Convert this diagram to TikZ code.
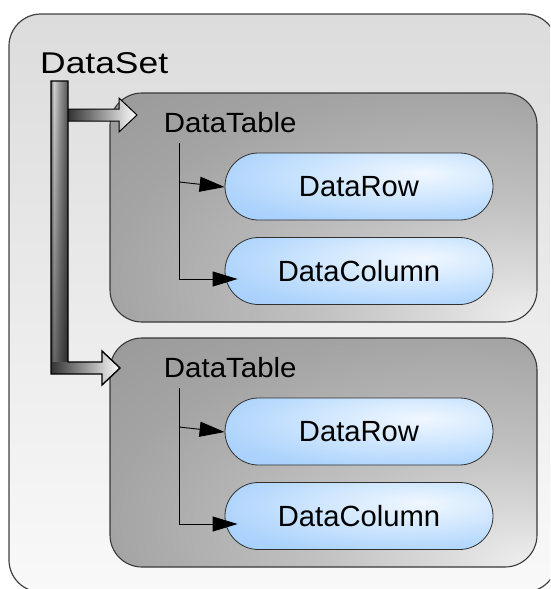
\documentclass[tikz,border=0pt]{standalone}
\usepackage{fontspec}
\setmainfont{Liberation Sans}
\usetikzlibrary{arrows.meta,fadings}

% palette
\definecolor{outertop}{HTML}{DCDCDC}
\definecolor{outerbot}{HTML}{F9F9F9}
\definecolor{outerline}{HTML}{404040}
\definecolor{tbA}{HTML}{F0F0F0}
\definecolor{tbB}{HTML}{DCDCDC}
\definecolor{tbC}{HTML}{C2C2C2}
\definecolor{tbD}{HTML}{A4A4A4}
\definecolor{tbE}{HTML}{9A9A9A}
\definecolor{tbline}{HTML}{383838}
\definecolor{plA}{HTML}{F0F7FF}
\definecolor{plB}{HTML}{D4E9FE}
\definecolor{plC}{HTML}{ACD3FC}
\definecolor{plD}{HTML}{9ACAFA}
\definecolor{plE}{HTML}{96C7F9}
\definecolor{pillline}{HTML}{303030}
\definecolor{barA}{HTML}{707070}
\definecolor{barB}{HTML}{D4D4D4}
\definecolor{barC}{HTML}{9A9A9A}
\definecolor{barD}{HTML}{555555}
\definecolor{arrowdark}{HTML}{333333}

% shadings
\pgfdeclareradialshading{tablefill}{\pgfpoint{25bp}{-25bp}}{%
  color(0bp)=(tbA); color(8bp)=(tbB); color(20bp)=(tbC);
  color(40bp)=(tbD); color(52bp)=(tbE); color(100bp)=(tbE)}
\pgfdeclareradialshading{pillfill}{\pgfpoint{12bp}{10bp}}{%
  color(0bp)=(plA); color(15bp)=(plB); color(35bp)=(plC);
  color(55bp)=(plD); color(100bp)=(plE)}
\pgfdeclarehorizontalshading{barfill}{100bp}{%
  color(0bp)=(barA); color(25bp)=(barA); color(33bp)=(barB);
  color(50bp)=(barC); color(75bp)=(barD); color(100bp)=(barD)}
\tikzfading[name=bardark, top color=transparent!100, bottom color=transparent!0]

\begin{document}
\begin{tikzpicture}[x=1pt,y=-1pt,
  tablebox/.style={draw=tbline, line width=1.1pt, rounded corners=32pt,
    shade, shading=tablefill, minimum width=427pt, minimum height=229pt,
    inner sep=0pt},
  pill/.style={draw=pillline, line width=0.8pt, rounded corners=33.5pt,
    shade, shading=pillfill, minimum width=268pt, minimum height=67pt,
    inner sep=0pt, font=\fontsize{29.2}{30}\selectfont},
  tabletitle/.style={inner sep=0pt, anchor=base west,
    font=\fontsize{27.8}{30}\selectfont},
  settitle/.style={inner sep=0pt, anchor=base west,
    font=\fontsize{30}{32}\selectfont},
  conn/.style={line width=0.9pt, -{Triangle[length=25pt,width=15pt]}},
  blockfill/.style={left color=arrowdark, right color=white},
  blockline/.style={draw=black, line width=1pt, line join=miter},
]
\useasboundingbox (0,0) rectangle (550,589);

% DataSet container
\begin{scope}
  \clip (0,0) rectangle (550,589);
  \path[draw=outerline, line width=1.2pt, top color=outertop,
    bottom color=outerbot, rounded corners=32pt] (9,14) rectangle (557,592);
\end{scope}
\node[settitle] (ds) at (40,73) {\scalebox{1.18}[1]{DataSet}};

% DataTable containers
\node[tablebox] (tab1) at (323.5,207.5) {};
\node[tablebox] (tab2) at (323.5,452.5) {};
\node[tabletitle] (tt1) at (163.7,132.3) {\scalebox{1.06}[1]{DataTable}};
\node[tabletitle] (tt2) at (163.7,377.3) {\scalebox{1.06}[1]{DataTable}};

% rows and columns
\node[pill] (row1) at (359,186.5) {DataRow};
\node[pill] (col1) at (359,271) {DataColumn};
\node[pill] (row2) at (359,431.5) {DataRow};
\node[pill] (col2) at (359,516) {DataColumn};

% tree connectors inside each table
\coordinate (v1) at (179,143);
\coordinate (b1) at (179,182);
\draw[conn] (v1) |- ([xshift=13pt,yshift=-8pt]col1.west);
\draw[conn] (b1) -- ([yshift=-0.5pt]row1.west);
\coordinate (v2) at (179,388);
\coordinate (b2) at (179,427);
\draw[conn] (v2) |- ([xshift=13pt,yshift=-8pt]col2.west);
\draw[conn] (b2) -- ([yshift=-0.5pt]row2.west);

% DataSet trunk with its two block arrows
\shade[shading=barfill] (51,81) rectangle (68,362);
\fill[black, fill opacity=0.5, path fading=bardark] (51,81) rectangle (68,362);
\shade[blockfill] (51,362) -- (102,362) -- (102,351) -- (120,368)
  -- (102,385) -- (102,374) -- (51,374) -- cycle;
\shade[blockfill] (68,109) -- (119,109) -- (119,98) -- (137,115)
  -- (119,132) -- (119,121) -- (68,121) -- cycle;
\draw[blockline] (68,109) -- (119,109) -- (119,98) -- (137,115)
  -- (119,132) -- (119,121) -- (68,121);
\draw[blockline, line width=1.4pt] (51,81) -- (68,81) -- (68,362) -- (102,362)
  -- (102,351) -- (120,368) -- (102,385) -- (102,374) -- (51,374) -- cycle;
\end{tikzpicture}
\end{document}
